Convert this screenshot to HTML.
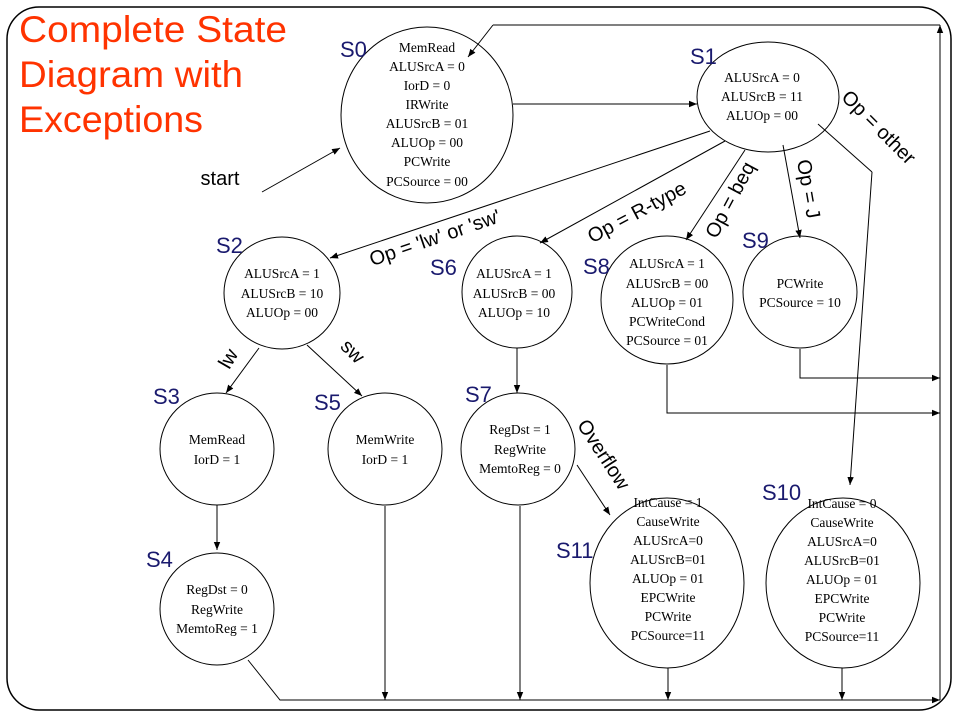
<!DOCTYPE html>
<html><head><meta charset="utf-8"><style>body{margin:0;background:#fff}svg{display:block}</style></head><body>
<svg width="960" height="720" viewBox="0 0 960 720" xmlns="http://www.w3.org/2000/svg">
<defs><marker id="a" viewBox="0 0 10 10" refX="10" refY="5" markerWidth="8" markerHeight="8" orient="auto" markerUnits="userSpaceOnUse"><path d="M0,1 L10,5 L0,9 z" fill="#000"/></marker></defs>
<rect x="7" y="7" width="944" height="703" rx="32" fill="none" stroke="#000" stroke-width="1.5"/>
<g font-family="Liberation Sans, sans-serif" fill="#ff3300" font-size="37">
<text x="19" y="42" textLength="268" lengthAdjust="spacingAndGlyphs">Complete State</text>
<text x="19" y="87" textLength="224" lengthAdjust="spacingAndGlyphs">Diagram with</text>
<text x="19" y="132" textLength="184" lengthAdjust="spacingAndGlyphs">Exceptions</text>
</g>
<g fill="none" stroke="#000" stroke-width="1">
<ellipse cx="427" cy="115" rx="86" ry="88"/>
<ellipse cx="768" cy="97" rx="71" ry="55"/>
<ellipse cx="282" cy="293" rx="58" ry="56"/>
<ellipse cx="517" cy="292" rx="55" ry="56"/>
<ellipse cx="667" cy="300" rx="66" ry="64"/>
<ellipse cx="800" cy="292" rx="57" ry="56"/>
<ellipse cx="217" cy="449" rx="57" ry="56"/>
<ellipse cx="385" cy="449" rx="57" ry="56"/>
<ellipse cx="217" cy="609" rx="57" ry="56"/>
<ellipse cx="518" cy="449" rx="57" ry="56"/>
<ellipse cx="667" cy="583" rx="77" ry="85"/>
<ellipse cx="843" cy="583" rx="77" ry="85"/>
<g marker-end="url(#a)">
<line x1="262" y1="192" x2="340" y2="148"/>
<line x1="513" y1="104" x2="697" y2="104"/>
<line x1="940" y1="700" x2="940" y2="25"/>
<line x1="493" y1="25" x2="468" y2="57"/>
<line x1="710" y1="131" x2="330" y2="258"/>
<line x1="725" y1="141" x2="540" y2="243"/>
<line x1="745" y1="150" x2="686" y2="240"/>
<line x1="783" y1="145" x2="800" y2="238"/>
<line x1="872" y1="172" x2="850" y2="485"/>
<line x1="259" y1="348" x2="226" y2="393"/>
<line x1="307" y1="345" x2="362" y2="396"/>
<line x1="217" y1="505" x2="217" y2="550"/>
<polyline points="248,660 280,700 940,700"/>
<line x1="385" y1="506" x2="385" y2="700"/>
<line x1="517" y1="348" x2="517" y2="393"/>
<line x1="520" y1="506" x2="520" y2="700"/>
<line x1="577" y1="465" x2="610" y2="515"/>
<line x1="668" y1="668" x2="668" y2="700"/>
<line x1="842" y1="668" x2="842" y2="700"/>
<polyline points="800,349 800,378 940,378"/>
<polyline points="667,365 667,413 940,413"/>
</g>
<line x1="493" y1="25" x2="940" y2="25"/>
<line x1="818" y1="124" x2="872" y2="172"/>
</g>
<g font-family="Liberation Serif, serif" font-size="13.5" text-anchor="middle" fill="#000">
<text x="427" y="52">MemRead</text><text x="427" y="71">ALUSrcA = 0</text><text x="427" y="90">IorD = 0</text><text x="427" y="109">IRWrite</text><text x="427" y="128">ALUSrcB = 01</text><text x="427" y="147">ALUOp = 00</text><text x="427" y="166">PCWrite</text><text x="427" y="186">PCSource = 00</text>
<text x="762" y="82">ALUSrcA = 0</text><text x="762" y="101">ALUSrcB = 11</text><text x="762" y="120">ALUOp = 00</text>
<text x="282" y="278">ALUSrcA = 1</text><text x="282" y="298">ALUSrcB = 10</text><text x="282" y="317">ALUOp = 00</text>
<text x="514" y="278">ALUSrcA = 1</text><text x="514" y="298">ALUSrcB = 00</text><text x="514" y="317">ALUOp = 10</text>
<text x="667" y="268">ALUSrcA = 1</text><text x="667" y="288">ALUSrcB = 00</text><text x="667" y="307">ALUOp = 01</text><text x="667" y="326">PCWriteCond</text><text x="667" y="345">PCSource = 01</text>
<text x="800" y="288">PCWrite</text><text x="800" y="307">PCSource = 10</text>
<text x="217" y="444">MemRead</text><text x="217" y="464">IorD = 1</text>
<text x="385" y="444">MemWrite</text><text x="385" y="464">IorD  = 1</text>
<text x="217" y="594">RegDst = 0</text><text x="217" y="614">RegWrite</text><text x="217" y="633">MemtoReg = 1</text>
<text x="520" y="434">RegDst = 1</text><text x="520" y="454">RegWrite</text><text x="520" y="473">MemtoReg  = 0</text>
<text x="668" y="507">IntCause = 1</text><text x="668" y="526">CauseWrite</text><text x="668" y="545">ALUSrcA=0</text><text x="668" y="564">ALUSrcB=01</text><text x="668" y="583">ALUOp = 01</text><text x="668" y="602">EPCWrite</text><text x="668" y="621">PCWrite</text><text x="668" y="640">PCSource=11</text>
<text x="842" y="508">IntCause = 0</text><text x="842" y="527">CauseWrite</text><text x="842" y="546">ALUSrcA=0</text><text x="842" y="565">ALUSrcB=01</text><text x="842" y="584">ALUOp = 01</text><text x="842" y="603">EPCWrite</text><text x="842" y="622">PCWrite</text><text x="842" y="641">PCSource=11</text>
</g>
<g font-family="Liberation Sans, sans-serif" font-size="22" fill="#1a1a6e">
<text x="340" y="57">S0</text><text x="690" y="64">S1</text><text x="216" y="253">S2</text><text x="430" y="275">S6</text><text x="583" y="274">S8</text><text x="742" y="248">S9</text><text x="153" y="404">S3</text><text x="314" y="410">S5</text><text x="465" y="402">S7</text><text x="146" y="567">S4</text><text x="556" y="558">S11</text><text x="762" y="500">S10</text>
</g>
<g font-family="Liberation Sans, sans-serif" font-size="20" fill="#000" text-anchor="middle">
<text x="220" y="185">start</text>
<text transform="translate(437,244) rotate(-19)">Op = 'lw' or 'sw'</text>
<text transform="translate(640,218) rotate(-28)">Op = R-type</text>
<text transform="translate(736,203) rotate(-62)">Op = beq</text>
<text transform="translate(802,190) rotate(80)">Op = J</text>
<text transform="translate(874,132) rotate(45)">Op = other</text>
<text transform="translate(234,362) rotate(-60)">lw</text>
<text transform="translate(348,356) rotate(45)">sw</text>
<text transform="translate(598,458) rotate(57)">Overflow</text>
</g>
</svg>
</body></html>
